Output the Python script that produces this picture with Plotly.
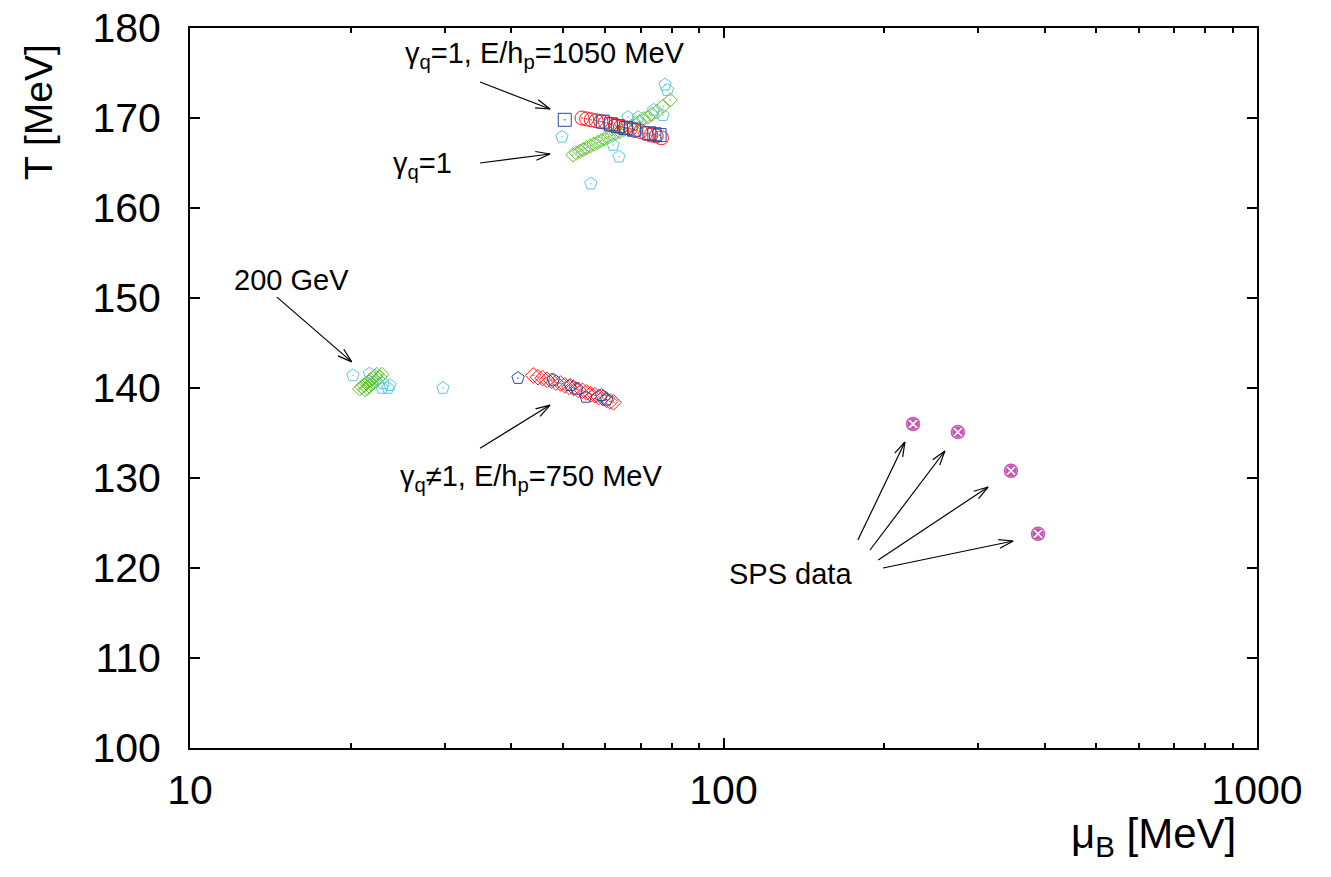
import math
import plotly.graph_objects as go

# ---------------- data (mu_B [MeV], T [MeV]) ----------------
up_circ_mu = [54.3, 55.4, 56.5, 57.7, 58.9, 60.1, 61.4, 62.7, 64.1, 65.5, 66.9, 68.3, 69.9, 71.5, 73.1, 74.8, 76.5]
up_circ_T = [170.0, 169.9, 169.8, 169.7, 169.6, 169.5, 169.3, 169.2, 169.0, 168.9, 168.8, 168.6, 168.5, 168.3, 168.1, 168.0, 167.8]

up_sq_mu = [50.4, 59.4, 61.5, 63.4, 65.6, 68.0, 72.6, 74.2, 75.9]
up_sq_T = [169.8, 169.6, 169.3, 169.1, 168.9, 168.7, 168.3, 168.2, 168.1]

up_dia_mu = [52.2, 53.0, 53.8, 54.6, 55.4, 56.3, 57.2, 58.1, 59.0, 59.9, 60.9, 61.9, 62.9, 63.9, 65.0,
             66.1, 67.2, 68.4, 69.6, 70.8, 72.1, 73.4, 75.0, 77.0, 79.4]
up_dia_T = [165.9, 166.1, 166.3, 166.5, 166.7, 166.9, 167.1, 167.3, 167.5, 167.7, 167.9, 168.1, 168.3, 168.5, 168.7,
            168.9, 169.1, 169.4, 169.6, 169.9, 170.1, 170.4, 170.7, 171.3, 172.0]

up_pent_mu = [49.8, 56.4, 62.1, 63.7, 66.2, 69.2, 74.0, 77.0, 77.7, 78.5]
up_pent_T = [167.9, 162.7, 167.0, 165.7, 170.1, 170.1, 170.9, 170.3, 173.7, 173.1]

lo_dia_mu = [44.0, 44.9, 45.8, 46.7, 47.6, 48.5, 49.5, 50.4, 51.4, 52.4, 53.4, 54.4, 55.4, 56.4, 57.4,
             58.4, 59.4, 60.3, 61.3, 62.2]
lo_dia_T = [141.4, 141.2, 141.1, 140.9, 140.8, 140.6, 140.5, 140.3, 140.1, 140.0, 139.8, 139.7, 139.5, 139.3, 139.2,
            139.0, 138.9, 138.7, 138.5, 138.4]

lo_pent_mu = [41.2, 48.0, 51.6, 53.1, 55.2, 59.1, 60.4]
lo_pent_T = [141.1, 140.9, 140.3, 139.9, 139.0, 139.2, 138.7]

rhic_dia_mu = [20.8, 21.0, 21.2, 21.4, 21.6, 21.8, 22.0, 22.2, 22.4,
               21.3, 21.5, 21.7, 21.9, 22.1, 22.3, 22.5, 22.7, 22.9]
rhic_dia_T = [139.9, 140.1, 140.3, 140.5, 140.7, 140.9, 141.1, 141.3, 141.5,
              139.8, 140.0, 140.2, 140.4, 140.6, 140.8, 141.0, 141.2, 141.5]

rhic_pent_mu = [20.2, 21.7, 22.9, 23.0, 23.5, 23.7, 29.8]
rhic_pent_T = [141.4, 141.6, 140.0, 140.5, 140.0, 140.3, 140.0]

sps_mu = [226.6, 275.0, 345.8, 388.6]
sps_T = [136.0, 135.1, 130.8, 123.8]

x_tick_vals = [10, 100, 1000]
x_tick_text = ["10", "100", "1000"]
y_tick_vals = [100, 110, 120, 130, 140, 150, 160, 170, 180]

# arrows: (tail_mu, tail_T, head_mu, head_T)
arrows = [
    (34.97, 174.0, 47.3, 171.0),
    (34.97, 165.0, 47.3, 166.0),
    (14.55, 150.1, 20.1, 142.9),
    (34.97, 133.3, 47.3, 138.1),
    (178.6, 123.1, 218.8, 134.0),
    (188.2, 122.0, 260.0, 133.0),
    (195.0, 120.9, 313.3, 129.0),
    (199.1, 120.0, 349.1, 123.0),
]

# ---------------- layout geometry ----------------
W, H = 1331, 877
ML, MR, MT, MB = 190, 74, 28, 129
PW, PH = W - ML - MR, H - MT - MB
LX0, LX1 = 1.0, 3.0
Y0, Y1 = 100.0, 180.0


def to_px(mu, t):
    return ML + (math.log10(mu) - LX0) / (LX1 - LX0) * PW, MT + (Y1 - t) / (Y1 - Y0) * PH


def from_px(px, py):
    return 10 ** (LX0 + (px - ML) / PW * (LX1 - LX0)), Y1 - (py - MT) / PH * (Y1 - Y0)


FONT = "Liberation Sans, Arial, Helvetica, sans-serif"
RED = "#ff1a1a"
BLUE = "#2a48a3"
GREEN = "#62c032"
CYAN = "#5cc6e4"
MAG = "#c455b4"

fig = go.Figure()


def add(mu, T, symbol, color, size):
    fig.add_trace(go.Scatter(x=mu, y=T, mode="markers", showlegend=False, hoverinfo="x+y",
                             marker=dict(symbol=symbol, size=size, color=color,
                                         line=dict(color=color, width=1))))


add(up_dia_mu, up_dia_T, "diamond-open-dot", GREEN, 11)
add(up_pent_mu, up_pent_T, "pentagon-open-dot", CYAN, 13)
add(up_circ_mu, up_circ_T, "circle-open-dot", RED, 14)
add(up_sq_mu, up_sq_T, "square-open-dot", BLUE, 13)
add(lo_dia_mu, lo_dia_T, "diamond-open-dot", RED, 12)
add(lo_pent_mu, lo_pent_T, "pentagon-open-dot", BLUE, 13)
add(rhic_dia_mu, rhic_dia_T, "diamond-open-dot", GREEN, 11)
add(rhic_pent_mu, rhic_pent_T, "pentagon-open-dot", CYAN, 13)

fig.add_trace(go.Scatter(x=sps_mu, y=sps_T, mode="markers", showlegend=False,
                         marker=dict(symbol="circle-x", size=13, color=MAG,
                                     line=dict(color="white", width=1.6))))
fig.add_trace(go.Scatter(x=sps_mu, y=sps_T, mode="markers", showlegend=False, hoverinfo="skip",
                         marker=dict(symbol="circle-open", size=13, color=MAG,
                                     line=dict(color=MAG, width=1.5))))

# arrows with open V heads (computed in screen space)
ax_x, ax_y = [], []
HEAD_LEN, HEAD_ANG = 15.0, math.radians(17)
for tm, tt, hm, ht in arrows:
    x0, y0 = to_px(tm, tt)
    x1, y1 = to_px(hm, ht)
    ang = math.atan2(y1 - y0, x1 - x0)
    for m, t in ((tm, tt), (hm, ht)):
        ax_x.append(m); ax_y.append(t)
    ax_x.append(None); ax_y.append(None)
    for s in (1, -1):
        a = ang + math.pi + s * HEAD_ANG
        bx, by = x1 + HEAD_LEN * math.cos(a), y1 + HEAD_LEN * math.sin(a)
        bm, bt = from_px(bx, by)
        ax_x += [hm, bm, None]
        ax_y += [ht, bt, None]
fig.add_trace(go.Scatter(x=ax_x, y=ax_y, mode="lines", showlegend=False, hoverinfo="skip",
                         line=dict(color="black", width=1.2)))

# text labels
labels = [
    ("γ<sub>q</sub>=1, E/h<sub>p</sub>=1050 MeV", 46.3, 177.0),
    ("γ<sub>q</sub>=1", 27.3, 164.8),
    ("200 GeV", 15.5, 152.0),
    ("γ<sub>q</sub>≠1, E/h<sub>p</sub>=750 MeV", 43.6, 130.0),
    ("SPS data", 133.8, 119.3),
]
for txt, m, t in labels:
    fig.add_annotation(x=math.log10(m), y=t, xref="x", yref="y", text=txt, showarrow=False,
                       xanchor="center", yanchor="middle", font=dict(family=FONT, size=29, color="black"))

# axis titles
fig.add_annotation(x=(1153 - ML) / PW, y=(MT + PH - 836) / PH, xref="paper", yref="paper",
                   text="μ<sub>B</sub> [MeV]", showarrow=False, xanchor="center", yanchor="middle",
                   font=dict(family=FONT, size=42, color="black"))
fig.add_annotation(x=(38 - ML) / PW, y=(MT + PH - 112) / PH, xref="paper", yref="paper",
                   text="T [MeV]", showarrow=False, textangle=-90, xanchor="center", yanchor="middle",
                   font=dict(family=FONT, size=39, color="black"))

axis_common = dict(showline=True, linecolor="black", linewidth=2, mirror="allticks",
                   ticks="inside", ticklen=10, tickwidth=2, tickcolor="black",
                   showgrid=False, zeroline=False, automargin=False,
                   tickfont=dict(family=FONT, size=41, color="black"))

fig.update_layout(
    width=W, height=H, autosize=False,
    margin=dict(l=ML, r=MR, t=MT, b=MB),
    paper_bgcolor="white", plot_bgcolor="white",
    xaxis=dict(type="log", range=[LX0, LX1], tickvals=x_tick_vals, ticktext=x_tick_text,
               ticklabelstandoff=5,
               minor=dict(ticks="inside", ticklen=5, tickwidth=1.5, tickcolor="black", dtick="D1",
                          showgrid=False),
               **axis_common),
    yaxis=dict(range=[Y0, Y1], tickvals=y_tick_vals, ticklabelstandoff=19, **axis_common),
)

fig.write_html("out.html")
